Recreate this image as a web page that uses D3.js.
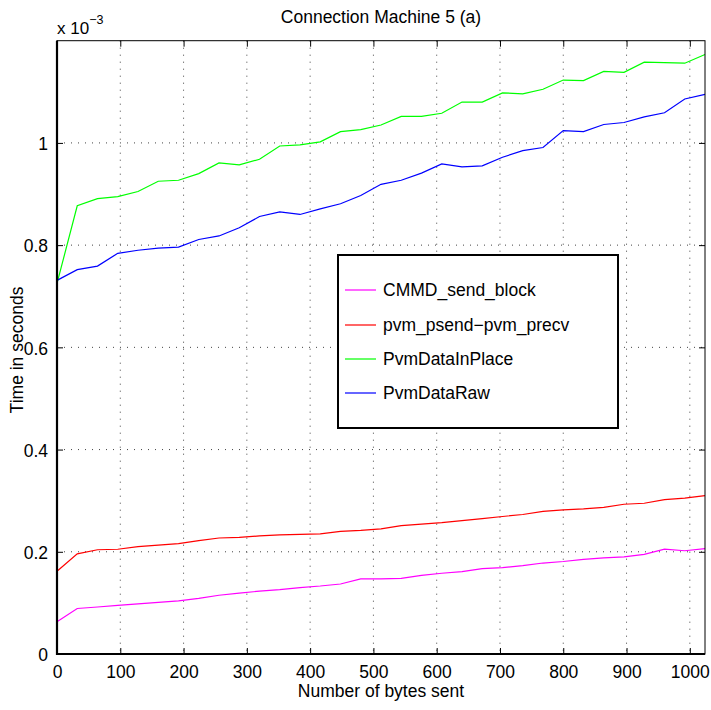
<!DOCTYPE html>
<html><head><meta charset="utf-8">
<script src="https://cdn.jsdelivr.net/npm/d3@7"></script>
<style>body{margin:0;background:#fff}svg{display:block}text{font-family:"Liberation Sans",Arial,sans-serif;fill:#000}</style>
</head><body><svg id="c" width="711" height="710"></svg>
<script>
const bytes = d3.range(0, 1025, 32);
const seriesNames = ["CMMD_send_block", "pvm_psend\u2212pvm_precv", "PvmDataInPlace", "PvmDataRaw"];
const seriesColors = ["#ff00ff", "#ff0000", "#00ff00", "#0000ff"];
const cmmd = [0.063,0.089,0.092,0.095,0.098,0.101,0.104,0.109,0.115,0.119,0.123,0.126,0.130,0.133,0.137,0.147,0.147,0.148,0.154,0.158,0.161,0.167,0.169,0.173,0.178,0.181,0.185,0.188,0.190,0.195,0.205,0.202,0.206];
const psend = [0.162,0.196,0.204,0.205,0.210,0.213,0.216,0.222,0.227,0.228,0.231,0.233,0.234,0.235,0.240,0.242,0.245,0.251,0.254,0.257,0.261,0.265,0.269,0.273,0.279,0.282,0.284,0.287,0.293,0.295,0.302,0.305,0.310];
const inplace = [0.725,0.877,0.891,0.895,0.905,0.925,0.927,0.940,0.961,0.957,0.968,0.994,0.996,1.002,1.022,1.026,1.035,1.052,1.052,1.058,1.080,1.080,1.098,1.096,1.105,1.123,1.122,1.140,1.138,1.158,1.157,1.156,1.173];
const raw = [0.731,0.752,0.759,0.784,0.790,0.794,0.796,0.811,0.818,0.834,0.856,0.865,0.860,0.871,0.881,0.897,0.919,0.927,0.941,0.959,0.953,0.955,0.972,0.985,0.991,1.024,1.022,1.036,1.040,1.051,1.059,1.086,1.095];
const seriesValues = [cmmd, psend, inplace, raw];
const xTicks = [0,100,200,300,400,500,600,700,800,900,1000];
const xTickLabels = ["0","100","200","300","400","500","600","700","800","900","1000"];
const yTicks = [0,0.2,0.4,0.6,0.8,1];
const yTickLabels = ["0","0.2","0.4","0.6","0.8","1"];

const svg = d3.select("#c");
const L=57, R=705, T=40.7, B=654;
const x = d3.scaleLinear().domain([0,1024]).range([L,R]);
const y = d3.scaleLinear().domain([0,1.2]).range([B,T]);

// grid
const g = svg.append("g");
g.selectAll(".gx").data(xTicks.slice(1)).join("line")
  .attr("x1",d=>x(d)).attr("x2",d=>x(d)).attr("y1",T).attr("y2",B)
  .attr("stroke","#444").attr("stroke-width",1).attr("stroke-dasharray","1,6");
g.selectAll(".gy").data(yTicks.slice(1)).join("line")
  .attr("y1",d=>y(d)).attr("y2",d=>y(d)).attr("x1",L).attr("x2",R)
  .attr("stroke","#444").attr("stroke-width",1).attr("stroke-dasharray","1,6");

// lines
const line = d3.line().x((d,i)=>x(bytes[i])).y(d=>y(d));
seriesValues.forEach((vals,k)=>{
  svg.append("path").datum(vals).attr("d",line).attr("fill","none")
    .attr("stroke",seriesColors[k]).attr("stroke-width",1.2);
});

// axes with inner ticks
const tl=6;
const axB = svg.append("g").attr("transform",`translate(0,${B})`)
  .call(d3.axisBottom(x).tickValues(xTicks).tickSize(-tl).tickPadding(12).tickFormat((d,i)=>xTickLabels[i]));
const axT = svg.append("g").attr("transform",`translate(0,${T})`)
  .call(d3.axisTop(x).tickValues(xTicks).tickSize(-tl).tickFormat(""));
const axL = svg.append("g").attr("transform",`translate(${L},0)`)
  .call(d3.axisLeft(y).tickValues(yTicks).tickSize(-tl).tickPadding(9).tickFormat((d,i)=>yTickLabels[i]));
const axR = svg.append("g").attr("transform",`translate(${R},0)`)
  .call(d3.axisRight(y).tickValues(yTicks).tickSize(-tl).tickFormat(""));
[axB,axT,axL,axR].forEach(a=>{
  a.select(".domain").remove();
  a.selectAll(".tick line").attr("stroke","#000").attr("stroke-width",1);
  a.selectAll("text").style("font-family","'Liberation Sans',Arial,sans-serif").style("font-size","17.5px").attr("fill","#000");
});
axL.selectAll("text").attr("dy","0.38em");
// box
svg.append("rect").attr("x",L).attr("y",T).attr("width",R-L).attr("height",B-T)
  .attr("fill","none").attr("stroke","#000").attr("stroke-width",1);
svg.append("line").attr("x1",L).attr("x2",L).attr("y1",T).attr("y2",B+1).attr("stroke","#000").attr("stroke-width",2.2);
svg.append("line").attr("x1",L-1).attr("x2",R).attr("y1",B).attr("y2",B).attr("stroke","#000").attr("stroke-width",2.2);

// texts
svg.append("text").attr("x",381).attr("y",23).attr("text-anchor","middle").style("font-size","17.5px").text("Connection Machine 5 (a)");
const ex = svg.append("text").attr("x",57).attr("y",34).style("font-size","17px");
ex.append("tspan").text("x 10");
ex.append("tspan").attr("dy",-10).style("font-size","12.5px").text("\u22123");
svg.append("text").attr("x",381).attr("y",697).attr("text-anchor","middle").style("font-size","17.5px").text("Number of bytes sent");
svg.append("text").attr("transform","translate(23,350) rotate(-90)").attr("text-anchor","middle").style("font-size","17.5px").text("Time in seconds");

// legend
const lg = svg.append("g");
lg.append("rect").attr("x",338).attr("y",255).attr("width",280).attr("height",173)
  .attr("fill","#fff").attr("stroke","#000").attr("stroke-width",2);
const rowsY = [290,325,359,393];
seriesNames.forEach((n,k)=>{
  lg.append("line").attr("x1",345).attr("x2",376).attr("y1",rowsY[k]).attr("y2",rowsY[k])
    .attr("stroke",seriesColors[k]).attr("stroke-width",1.2);
  lg.append("text").attr("x",383).attr("y",rowsY[k]).attr("dy","0.36em").style("font-size","17.5px").text(n);
});
</script></body></html>
